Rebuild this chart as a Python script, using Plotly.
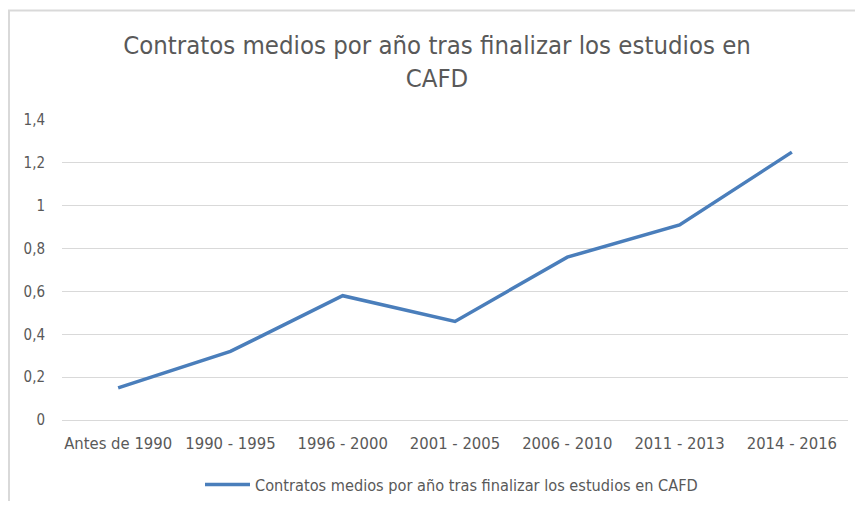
import plotly.graph_objects as go

categories = ["Antes de 1990", "1990 - 1995", "1996 - 2000", "2001 - 2005",
              "2006 - 2010", "2011 - 2013", "2014 - 2016"]
values = [0.15, 0.32, 0.58, 0.46, 0.76, 0.91, 1.25]
y_ticks = [0, 0.2, 0.4, 0.6, 0.8, 1.0, 1.2, 1.4]
y_tick_labels = ["0", "0,2", "0,4", "0,6", "0,8", "1", "1,2", "1,4"]
series_name = "Contratos medios por año tras finalizar los estudios en CAFD"
title_text = "Contratos medios por año tras finalizar los estudios en<br>CAFD"

FONT = "DejaVu Sans Condensed, Liberation Sans Narrow, sans-serif"
GRAY = "#595959"
BORDER = "#D9D9D9"

fig = go.Figure()
fig.add_trace(go.Scatter(
    x=categories, y=values, mode="lines", name=series_name,
    line=dict(color="#4A7EBB", width=3.5),
))

# page body has an 8px margin; figure is sized to fit the window
W, H = 847, 493
L, R, T, B = 54, 7, 112, 81
pw = W - L - R
ph = H - T - B


def px_x(x):
    return (x - L) / pw


def px_y(y):
    return (H - B - y) / ph


fig.update_layout(
    width=W, height=H,
    margin=dict(l=L, r=R, t=T, b=B, autoexpand=False),
    paper_bgcolor="white", plot_bgcolor="white",
    font=dict(family=FONT, color=GRAY, size=15),
    title=dict(text=title_text, x=px_x(429), xref="paper", xanchor="center",
               y=1 - 46 / H, yanchor="top",
               font=dict(size=25.5, family=FONT, color=GRAY)),
    showlegend=True,
    legend=dict(orientation="h", x=px_x(192), xanchor="left",
                y=px_y(477), yanchor="middle",
                font=dict(size=16.2, family=FONT, color=GRAY), itemwidth=45),
    xaxis=dict(type="category", showgrid=False, showline=True, linecolor=BORDER,
               linewidth=1, ticks="", tickfont=dict(size=16.5, color=GRAY),
               ticklabelstandoff=8,
               range=[-0.5, len(categories) - 0.5]),
    yaxis=dict(range=[0, 1.4], tickvals=y_ticks, ticktext=y_tick_labels,
               showgrid=True, gridcolor=BORDER, gridwidth=1, zeroline=False,
               showline=False, ticks="", ticklabelstandoff=16,
               tickfont=dict(size=15, color=GRAY)),
    shapes=[
        dict(type="line", xref="paper", yref="paper",
             x0=px_x(0), x1=px_x(W + 10), y0=px_y(2.5), y1=px_y(2.5),
             line=dict(color=BORDER, width=2), layer="above"),
        dict(type="line", xref="paper", yref="paper",
             x0=px_x(1), x1=px_x(1), y0=px_y(2), y1=px_y(H + 10),
             line=dict(color=BORDER, width=2), layer="above"),
    ],
)

fig.write_html("out.html")
